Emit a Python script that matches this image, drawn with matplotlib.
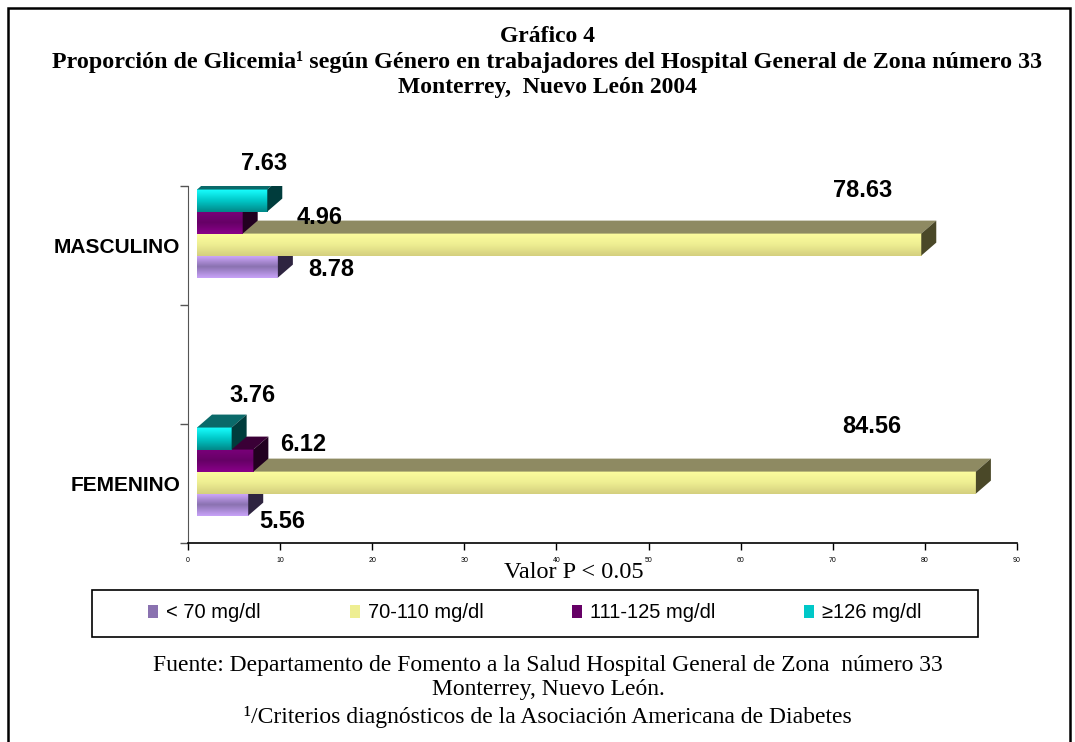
import numpy as np
import matplotlib
matplotlib.use("Agg")
from matplotlib import pyplot as plt
from matplotlib.patches import Polygon, Patch, Rectangle
from matplotlib.colors import LinearSegmentedColormap

# datos
generos = ["MASCULINO", "FEMENINO"]
series = ["< 70 mg/dl", "70-110 mg/dl", "111-125 mg/dl", "\u2265126 mg/dl"]
menos_70 = [8.78, 5.56]
de_70_110 = [78.63, 84.56]
de_111_125 = [4.96, 6.12]
mas_126 = [7.63, 3.76]
valores = [menos_70, de_70_110, de_111_125, mas_126]
xticks = [0, 10, 20, 30, 40, 50, 60, 70, 80, 90]

# estilo de cada serie: (frente arriba, frente medio, frente abajo, cara superior, cara lateral)
estilos = [
    ("#d2aaff", "#8a72b0", "#c8a2f8", "#5e4e7a", "#2e2440"),
    ("#fdfd9e", "#eeee92", "#d4cf7e", "#8e8a62", "#4a4828"),
    ("#7a007a", "#660066", "#8a008a", "#3a0036", "#220020"),
    ("#19ffff", "#00c8c8", "#008888", "#0a6a6a", "#003c3c"),
]
# desplazamiento de las etiquetas (pixeles) respecto al final de la barra
etiq_off = [
    [(53, -3), (-59, 54), (77, 5), (-3, 37)],
    [(34, -17), (-104, 56), (50, 16), (21, 43)],
]

W, H = 1075, 742
fig = plt.figure(figsize=(W / 100, H / 100), dpi=100)
ax = fig.add_axes([188 / W, 1 - 543 / H, (1017 - 188) / W, (543 - 186) / H])
ax.set_xlim(0, 90)
ax.set_ylim(0, 3)

px_x = 829 / 90
px_y = 357 / 3
shift = 9 / px_x      # frente de las barras
dx = 15 / px_x        # profundidad 3d
dy = 13 / px_y
alto = 0.185
n = len(generos)

for i, g in enumerate(generos):
    base = 0.23 + 2 * (n - 1 - i)
    for k in range(len(series)):
        v = valores[k][i]
        c = estilos[k]
        y0 = base + k * alto
        y1 = y0 + alto
        x0 = shift
        x1 = shift + v
        z = 2 + k
        cmap = LinearSegmentedColormap.from_list("f%d" % k, [c[2], c[1], c[0]])
        grad = np.linspace(0, 1, 64).reshape(-1, 1)
        ax.imshow(grad, cmap=cmap, extent=[x0, x1, y0, y1], origin="lower",
                  aspect="auto", interpolation="bilinear", zorder=z)
        ax.add_patch(Polygon([(x0, y1), (x1, y1), (x1 + dx, y1 + dy), (x0 + dx, y1 + dy)],
                             closed=True, facecolor=c[3], edgecolor="none", zorder=z))
        ax.add_patch(Polygon([(x1, y0), (x1 + dx, y0 + dy), (x1 + dx, y1 + dy), (x1, y1)],
                             closed=True, facecolor=c[4], edgecolor="none", zorder=z))
        ox, oy = etiq_off[i][k]
        ax.annotate("%.2f" % v, xy=(x1, (y0 + y1) / 2), xytext=(ox, oy),
                    textcoords="offset pixels", ha="center", va="center",
                    fontsize=17, fontweight="bold", family="Liberation Sans",
                    zorder=10, annotation_clip=False)

ax.set_xlim(0, 90)
ax.set_ylim(0, 3)

for s in ["top", "right"]:
    ax.spines[s].set_visible(False)
ax.spines["left"].set_bounds(0, 3)
ax.spines["left"].set_color("#555555")
ax.spines["bottom"].set_linewidth(1.2)

ax.set_xticks(xticks)
ax.set_xticklabels([str(t) for t in xticks], fontsize=5, family="Liberation Sans")
ax.tick_params(axis="x", length=5, width=1, pad=5)
ax.set_yticks([0, 1, 2, 3])
ax.set_yticklabels([])
ax.tick_params(axis="y", which="major", length=6, width=1, color="#555555")
ax.set_yticks([2 * (n - 1 - i) + 0.5 for i in range(n)], minor=True)
ax.set_yticklabels(generos, minor=True, fontsize=15, fontweight="bold",
                   family="Liberation Sans")
ax.tick_params(axis="y", which="minor", length=0, pad=5.5)

fig.text(574 / W, 1 - 573 / H, "Valor P < 0.05", ha="center", va="center",
         fontsize=17.5, family="Liberation Serif")

# titulo
cx = 547 / W
fig.text(cx, 1 - 37 / H, "Gráfico 4", ha="center", va="center", fontsize=17,
         fontweight="bold", family="Liberation Serif")
fig.text(cx, 1 - 62 / H,
         "Proporción de Glicemia\u00b9 según Género en trabajadores del Hospital General de Zona número 33",
         ha="center", va="center", fontsize=17.3, fontweight="bold", family="Liberation Serif")
fig.text(cx, 1 - 88 / H, "Monterrey,  Nuevo León 2004", ha="center", va="center",
         fontsize=17, fontweight="bold", family="Liberation Serif")

# leyenda
handles = [Patch(facecolor=e[1], edgecolor="none") for e in estilos]
leg = fig.legend(handles, series, loc="center", ncol=4,
                 bbox_to_anchor=(535 / W, 1 - 613 / H),
                 frameon=False, handlelength=0.5, handleheight=0.65,
                 handletextpad=0.4, columnspacing=4.4,
                 prop={"family": "Liberation Sans", "size": 14.5})
fig.add_artist(Rectangle((92 / W, 1 - 637 / H), (978 - 92) / W, 47 / H,
                         transform=fig.transFigure, fill=False, edgecolor="black",
                         linewidth=1.2))

# fuente
cf = 548 / W
fig.text(cf, 1 - 665 / H,
         "Fuente: Departamento de Fomento a la Salud Hospital General de Zona  número 33",
         ha="center", va="center", fontsize=17, family="Liberation Serif")
fig.text(cf, 1 - 690 / H, "Monterrey, Nuevo León.", ha="center", va="center",
         fontsize=17, family="Liberation Serif")
fig.text(cf, 1 - 717 / H, "\u00b9/Criterios diagnósticos de la Asociación Americana de Diabetes",
         ha="center", va="center", fontsize=17, family="Liberation Serif")

# marco
fig.add_artist(Rectangle((8 / W, -0.05), (1070 - 8) / W, 1.05 - 8 / H,
                         transform=fig.transFigure, fill=False, edgecolor="black",
                         linewidth=1.8))

fig.savefig("out.png", dpi=100)
